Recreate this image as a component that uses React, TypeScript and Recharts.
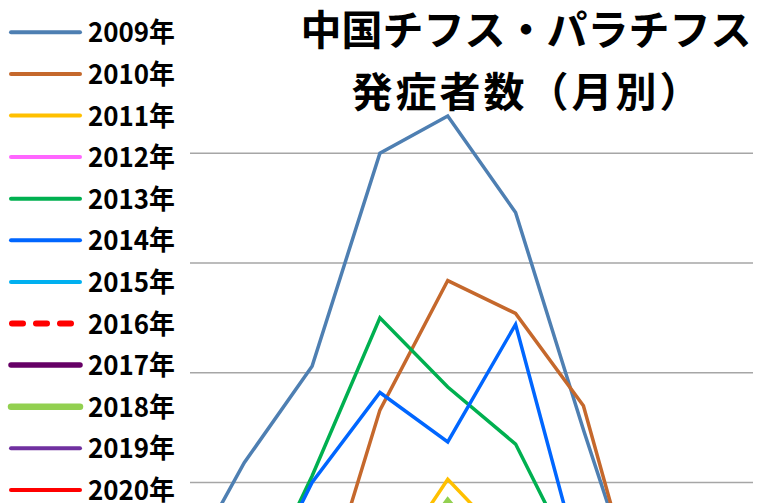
import { LineChart, Line, XAxis, YAxis, CartesianGrid, Legend } from 'recharts';

// month index 1..12
const MONTHS = [1, 2, 3, 4, 5, 6, 7, 8, 9, 10, 11, 12];

const YEARS = ['2009', '2010', '2011', '2012', '2013', '2014', '2015', '2016', '2017', '2018', '2019', '2020'];

// cases per month (lower part of the original is cut off)
const Y2009 = [1, 1.5, 2.5, 5.3, 10.9, 15.3, 25.0, 26.7, 22.3, 12.4, 3.0, 2];
const Y2010 = [1, 1, 2, 3, 4, 3.2, 13.3, 19.2, 17.7, 13.5, 2.4, 2];
const Y2011 = [1, 0.5, 1, 2, 3, 4, 5.5, 10.15, 6.9, 3, 1, 1];
const Y2012 = [0.5, 1, 1.5, 2, 3, 2.5, 4, 5, 3, 2, 1, 0.5];
const Y2013 = [1, 1, 2, 2, 3.8, 10.3, 17.5, 14.35, 11.75, 5.6, 2, 1];
const Y2014 = [1, 2, 1, 2, 3.8, 10.0, 14.1, 11.85, 17.2, 5.7, 2, 1];
const Y2015 = [1, 1, 2, 2, 3, 4, 5, 6, 4, 3, 2, 1];
const Y2016 = [1, 2, 1, 2, 3, 5, 6, 7, 5, 3, 2, 1];
const Y2017 = [0, 1, 1, 2, 3, 4, 5, 6, 4, 2, 1, 1];
const Y2018 = [1, 1, 1, 2, 3, 4, 5, 9.15, 5.5, 3, 2, 1];
const Y2019 = [0.5, 1, 1, 1.5, 2, 3, 4, 4.5, 3, 2, 1, 0.5];
const Y2020 = [0, 0.5, 0, 0.5, 1, 1, 1.5, 2, 1, 0.5, 0, 0];

const SERIES = [Y2009, Y2010, Y2011, Y2012, Y2013, Y2014, Y2015, Y2016, Y2017, Y2018, Y2019, Y2020];

const Y_TICKS = [10, 15, 20, 25];

const COLORS = [
  '#4E7FB2', '#C5682C', '#FFC000', '#FF66FF', '#00B050', '#0066FF',
  '#00B0F0', '#FF0000', '#660066', '#92D050', '#7030A0', '#FF0000',
];
const WIDTHS = [3.5, 3.5, 3.5, 3.5, 3.5, 3.5, 3.5, 5, 5, 6, 3.5, 3.5];
const LEGEND_WIDTHS = [4, 4, 4, 4, 4, 4, 4, 6, 5.5, 6.5, 4, 4];

const data = MONTHS.map((m, i) => {
  const row: Record<string, number> = { month: m };
  YEARS.forEach((y, j) => {
    row['y' + y] = SERIES[j][i];
  });
  return row;
});

function renderLegend() {
  return (
    <svg width={190} height={503}>
      {YEARS.map((y, i) => {
        const cy = 32.3 + i * 41.6;
        const dashed = i === 7;
        return (
          <g key={y}>
            <line
              x1={dashed ? 12 : 11}
              x2={dashed ? 72 : 80}
              y1={cy}
              y2={cy}
              stroke={COLORS[i]}
              strokeWidth={LEGEND_WIDTHS[i]}
              strokeLinecap="round"
              strokeDasharray={dashed ? '11 13' : undefined}
            />
            <text
              x={88}
              y={cy + 10}
              fontFamily="'Noto Sans CJK JP', sans-serif"
              fontWeight="bold"
              fontSize={27}
              textLength={87}
              lengthAdjust="spacingAndGlyphs"
              fill="#000"
            >
              {y}年
            </text>
          </g>
        );
      })}
    </svg>
  );
}

export default function App() {
  return (
    <div
      style={{
        position: 'fixed',
        left: 0,
        top: 0,
        width: 760,
        height: 503,
        overflow: 'hidden',
        background: '#fff',
      }}
    >
      <div style={{ position: 'absolute', left: -61, top: 0 }}>
        <LineChart width={814} height={702} data={data} margin={{ top: 43.5, right: 0, bottom: 0, left: 0 }}>
          <CartesianGrid vertical={false} horizontalValues={Y_TICKS} stroke="#A6A6A6" strokeWidth={1.5} />
          <XAxis type="number" dataKey="month" domain={[0.5, 12.5]} hide />
          <YAxis type="number" domain={[0, 30]} ticks={Y_TICKS} hide />
          {YEARS.map((y, i) => (
            <Line
              key={y}
              type="linear"
              dataKey={'y' + y}
              name={y + '年'}
              stroke={COLORS[i]}
              strokeWidth={WIDTHS[i]}
              strokeDasharray={i === 7 ? '12 8' : undefined}
              dot={false}
              activeDot={false}
              isAnimationActive={false}
            />
          ))}
          <Legend
            layout="vertical"
            align="center"
            verticalAlign="middle"
            wrapperStyle={{ left: 61, top: 0, width: 190, height: 503, backgroundColor: '#fff' }}
            content={renderLegend}
          />
        </LineChart>
      </div>
      <div
        style={{
          position: 'absolute',
          left: 290,
          top: 0,
          width: 472,
          textAlign: 'center',
          fontFamily: "'Noto Sans CJK JP', sans-serif",
          fontWeight: 'bold',
          fontSize: 41,
          color: '#000',
          whiteSpace: 'nowrap',
        }}
      >
        <div style={{ lineHeight: '54px' }}>中国チフス・パラチフス</div>
        <div style={{ lineHeight: '70px', letterSpacing: 3, paddingLeft: 3 }}>発症者数（月別）</div>
      </div>
    </div>
  );
}
